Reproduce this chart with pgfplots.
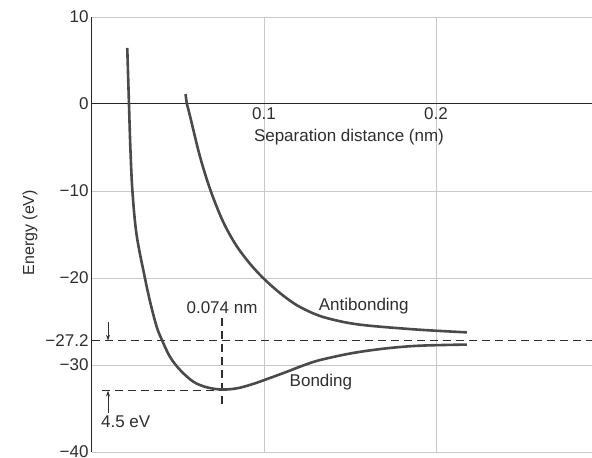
\documentclass[border=0pt]{standalone}
\usepackage{fontspec}
\setmainfont{Liberation Sans}
\usepackage{pgfplots}
\pgfplotsset{compat=1.18}
\usetikzlibrary{arrows.meta}
\definecolor{ink}{HTML}{2E2E2E}
\definecolor{curve}{HTML}{4A4A4A}
\definecolor{gridc}{HTML}{C8C8C8}

\begin{document}
\begin{tikzpicture}
\begin{axis}[
  width=500pt, height=435pt, scale only axis,
  xmin=0, xmax=0.2907, ymin=-40, ymax=10,
  axis lines=middle,
  axis line style={-, black!85, line width=1pt},
  font=\fontsize{17}{20}\selectfont,
  every tick label/.append style={text=ink},
  major tick length=0pt,
  xtick={0.1,0.2}, xticklabels={0.1,0.2},
  ytick={10,0,-10,-20,-30,-40},
  yticklabels={10,0,−10,−20,−30,−40},
  extra y ticks={-27.2}, extra y tick labels={−27.2},
  extra y tick style={grid=none},
  grid=major,
  major grid style={gridc, line width=0.8pt},
  clip=false,
]
% dashed reference lines
\addplot[ink, line width=1.3pt, dash pattern=on 8pt off 5pt] coordinates {(0,-27.2)(0.2907,-27.2)};
\addplot[ink, line width=1.3pt, dash pattern=on 8pt off 5pt] coordinates {(0.0058,-32.95)(0.0755,-32.95)};
\addplot[ink, line width=1.3pt, dash pattern=on 8pt off 5pt] coordinates {(0.0755,-24.6)(0.0755,-34.9)};

% bonding curve
\addplot[curve, line width=2.6pt, smooth, tension=0.55] coordinates {
(0.0205,6.44)(0.0215,0)(0.0223,-5.0)(0.0235,-10.0)(0.0259,-15.0)(0.0308,-20.03)
(0.0340,-22.91)(0.0376,-25.6)(0.0405,-27.05)(0.0453,-29.05)(0.0512,-30.57)
(0.0589,-31.92)(0.0667,-32.56)(0.0754,-32.82)(0.0843,-32.68)(0.0936,-32.18)
(0.1035,-31.49)(0.1134,-30.77)(0.1227,-30.06)(0.1326,-29.43)(0.1517,-28.62)
(0.1715,-28.08)(0.1907,-27.78)(0.2180,-27.65)
};
% antibonding curve
\addplot[curve, line width=2.6pt, smooth, tension=0.55] coordinates {
(0.0544,1.15)(0.0552,0)(0.0566,-1.07)(0.0628,-6.05)(0.0690,-9.98)(0.0762,-13.52)
(0.0837,-16.21)(0.0913,-18.23)(0.0988,-19.87)(0.1064,-21.25)(0.1134,-22.36)
(0.1209,-23.33)(0.1326,-24.37)(0.1471,-25.09)(0.1616,-25.49)(0.1907,-25.95)
(0.2180,-26.25)
};

% arrows marking the 4.5 eV gap
\draw[ink, line width=0.8pt, -{Stealth[length=6pt,width=4pt]}] (axis cs:0.0093,-25.1) -- (axis cs:0.0093,-27.2);
\draw[ink, line width=0.8pt, -{Stealth[length=6pt,width=4pt]}] (axis cs:0.0093,-35.5) -- (axis cs:0.0093,-32.95);

\node[text=ink, anchor=east] at (axis cs:0,0) {0};
\node[text=ink] at (axis cs:0.0756,-23.45) {0.074 nm};
\node[text=ink] at (axis cs:0.158,-23.2) {Antibonding};
\node[text=ink] at (axis cs:0.1331,-31.95) {Bonding};
\node[text=ink, anchor=west, inner sep=0pt] at (axis cs:0.0052,-36.55) {4.5 eV};
\node[text=ink] at (axis cs:0.1494,-3.8) {Separation distance (nm)};
\node[text=ink, rotate=90, font=\fontsize{16}{19}\selectfont] at (axis cs:-0.036,-14.8) {Energy (eV)};

\coordinate (bl) at (rel axis cs:0,0);
\coordinate (tr) at (rel axis cs:1,1);
\end{axis}
\pgfresetboundingbox
\path[use as bounding box] ([xshift=-92pt,yshift=-6pt]bl) rectangle ([yshift=17pt]tr);
\end{tikzpicture}
\end{document}
